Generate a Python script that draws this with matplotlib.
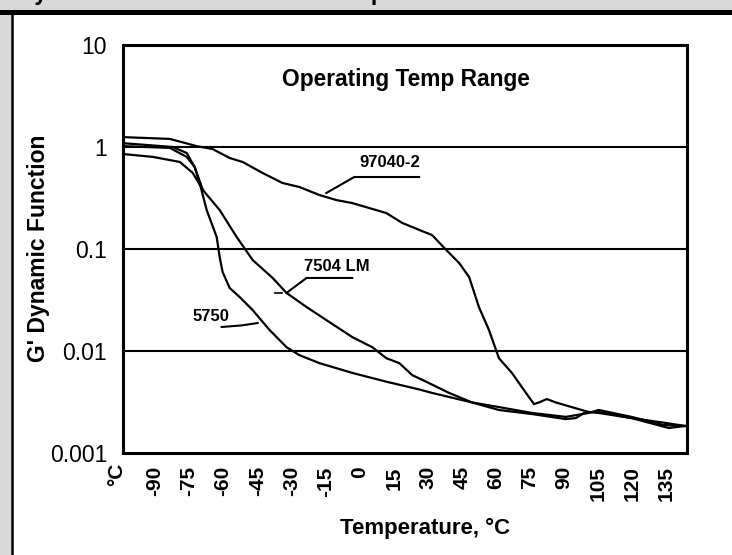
import matplotlib
matplotlib.use("Agg")
import matplotlib.pyplot as plt
from matplotlib.lines import Line2D
from matplotlib.patches import Rectangle

# ---------------- data ----------------
t_97040 = [-104, -83.4, -71.6, -64.6, -57.1, -51.4, -42.6, -33.9, -26.4, -17.6, -10.2, -3.2,
           4.3, 11.8, 18.8, 26.2, 31.9, 38.1, 43.8, 48.2, 52.5, 56.9, 61.3, 67.0, 73.2,
           76.7, 78.9, 82.4, 86.3, 93.3, 100.8, 105.2, 119.6, 134.6, 143.3]
g_97040 = [1.25, 1.20, 1.02, 0.955, 0.78, 0.713, 0.556, 0.444, 0.405, 0.338, 0.302, 0.282,
           0.252, 0.225, 0.180, 0.154, 0.137, 0.098, 0.0729, 0.0531, 0.027, 0.0161, 0.0085,
           0.0061, 0.00388, 0.00302, 0.00313, 0.00338, 0.00313, 0.00282, 0.00252, 0.00247,
           0.0022, 0.00197, 0.00184]

t_5750 = [-104, -82.1, -76.0, -72.5, -70.3, -67.2, -62.8, -61.5, -60.2, -57.1, -52.7, -47.0,
          -39.6, -32.1, -26.4, -17.6, -3.2, 11.8, 26.2, 31.9, 49.5, 61.3, 75.8, 90.7, 95.1,
          99.5, 105.2, 119.6, 135.9, 143.3]
g_5750 = [1.09, 1.0, 0.873, 0.637, 0.444, 0.241, 0.131, 0.0835, 0.0595, 0.0415, 0.0338,
          0.0252, 0.0161, 0.0109, 0.0091, 0.0076, 0.0061, 0.0050, 0.0042, 0.00388, 0.00313,
          0.00264, 0.00241, 0.00215, 0.0022, 0.00252, 0.00252, 0.0022, 0.00176, 0.00184]

t_7504 = [-104, -90.9, -79.0, -73.3, -68.9, -61.5, -54.0, -47.0, -38.2, -32.1, -23.3, -14.6,
          -3.2, 5.6, 11.8, 17.5, 23.2, 29.3, 39.4, 49.5, 61.3, 75.8, 90.7, 100.8, 105.2,
          119.6, 133.7, 143.3]
g_7504 = [0.853, 0.80, 0.713, 0.556, 0.379, 0.241, 0.131, 0.078, 0.052, 0.0371, 0.027,
          0.0201, 0.0137, 0.0109, 0.0085, 0.0076, 0.0058, 0.0050, 0.00388, 0.00313, 0.00282,
          0.00247, 0.00226, 0.00247, 0.00264, 0.00226, 0.00188, 0.00184]

# fourth (unlabelled) trace visible at the start, joining the 7504 LM curve
t_trace4 = [-104, -83.4, -76.0, -72.5, -68.9]
g_trace4 = [1.02, 0.98, 0.80, 0.637, 0.379]

x_ticks = [-90, -75, -60, -45, -30, -15, 0, 15, 30, 45, 60, 75, 90, 105, 120, 135]
x_ticklabels = ["-90", "-75", "-60", "-45", "-30", "-15", "0", "15", "30", "45", "60",
                "75", "90", "105", "120", "135"]
y_ticks = [0.001, 0.01, 0.1, 1, 10]
y_ticklabels = ["0.001", "0.01", "0.1", "1", "10"]
grid_values = [0.01, 0.1, 1]

# ---------------- figure ----------------
W, H = 732, 555
fig = plt.figure(figsize=(W / 100, H / 100), dpi=100, facecolor="#d9d9d9")

# white panel with black border
fig.patches.append(Rectangle((11 / W, 0), 1, (H - 12) / H, transform=fig.transFigure,
                             facecolor="white", edgecolor="none", zorder=-10))
fig.add_artist(Line2D([0, 1], [(H - 11.5) / H] * 2, transform=fig.transFigure,
                      color="black", lw=3.6, zorder=-5))
fig.add_artist(Line2D([11.5 / W] * 2, [0, (H - 11.5) / H], transform=fig.transFigure,
                      color="black", lw=1.8, zorder=-5))

# partially visible heading at the very top (cut off in the reference)
fig.text(18 / W, 1.0, "Dynamic Shear Modulus vs. Temperature", fontsize=16.4,
         fontweight="bold", family="Liberation Sans", va="baseline", ha="left")

ax = fig.add_axes([123 / W, 1 - 453 / H, (687 - 123) / W, (453 - 45) / H], zorder=1)
ax.set_facecolor("white")
ax.set_yscale("log")
ax.set_xlim(-104, 144)
ax.set_ylim(0.001, 10)

for gv in grid_values:
    ax.axhline(gv, color="black", lw=1.5, zorder=1)

lw = 1.6
ax.plot(t_97040, g_97040, color="black", lw=lw, zorder=3)
ax.plot(t_5750, g_5750, color="black", lw=lw, zorder=3)
ax.plot(t_7504, g_7504, color="black", lw=lw, zorder=3)
ax.plot(t_trace4, g_trace4, color="black", lw=lw, zorder=3)

for s in ax.spines.values():
    s.set_linewidth(2.2)
    s.set_color("black")

narrow = ["Liberation Sans Narrow", "Liberation Sans"]
ax.set_yticks(y_ticks)
ax.set_yticklabels(y_ticklabels, fontsize=16.5, family="Liberation Sans")
ax.yaxis.set_minor_locator(matplotlib.ticker.NullLocator())
ax.set_xticks(x_ticks)
ax.set_xticklabels(x_ticklabels, rotation=90, fontsize=15, fontweight="bold", family=narrow)
ax.tick_params(axis="both", length=0)
ax.tick_params(axis="y", pad=11.5)
ax.tick_params(axis="x", pad=9.5)

# °C label at the start of the temperature scale
ax.annotate("°C", xy=(-107, 0.001), xytext=(0, -10), textcoords="offset pixels",
            rotation=90, fontsize=15, fontweight="bold", family=narrow,
            ha="center", va="top", annotation_clip=False)

# axis titles
fig.text(39 / W, 1 - 248 / H, "G' Dynamic Function", rotation=90, fontsize=16.5,
         fontweight="bold", family="Liberation Sans", ha="center", va="center")
fig.text(425 / W, 1 - 528 / H, "Temperature, °C", fontsize=16, fontweight="bold",
         family="Liberation Sans", ha="center", va="center")

# in-plot annotations
ax.text(20.5, 4.54, "Operating Temp Range", fontsize=16.4, fontweight="bold",
        family="Liberation Sans", ha="center", va="center")

lbl_kw = dict(fontsize=12, fontweight="bold", family="Liberation Sans", va="center", ha="left")
ax.text(0.0, 0.697, "97040-2", **lbl_kw)
ax.plot([-14.6, -2.3, 26.2], [0.354, 0.508, 0.508], color="black", lw=1.5, zorder=4)
ax.text(-24.2, 0.0667, "7504 LM", **lbl_kw)
ax.plot([-32.1, -23.3, -3.2], [0.0371, 0.052, 0.052], color="black", lw=1.5, zorder=4)
ax.plot([-37.0, -34.0], [0.0371, 0.0371], color="black", lw=1.2, zorder=4)
ax.text(-73.3, 0.022, "5750", **lbl_kw)
ax.plot([-60.6, -52.0, -44.8], [0.0172, 0.0178, 0.0188], color="black", lw=1.5, zorder=4)

fig.savefig("out.png", dpi=100, facecolor=fig.get_facecolor())
